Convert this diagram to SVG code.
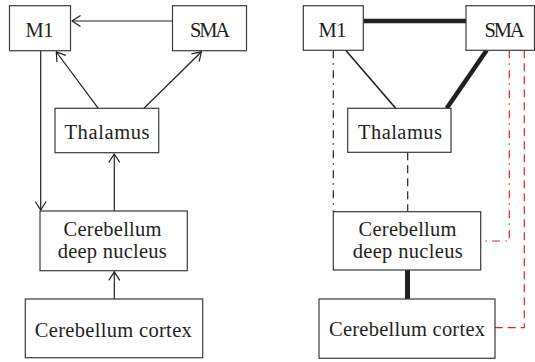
<svg xmlns="http://www.w3.org/2000/svg" width="535" height="362" viewBox="0 0 535 362">
<style>
.box{fill:#fff;stroke:#3a3a3a;stroke-width:1.2}
.t{font-family:'Liberation Serif','Times New Roman',serif;font-size:20.5px;fill:#231f20;text-anchor:middle}
.c{fill:none;stroke:#231f20;stroke-width:1.2}
.thick{fill:none;stroke:#231f20;stroke-width:4.5}
.dd{fill:none;stroke:#231f20;stroke-width:1.2;stroke-dasharray:8 5 1.5 5.5}
.da{fill:none;stroke:#231f20;stroke-width:1.2;stroke-dasharray:8 5}
.rdd{fill:none;stroke:#ed1c24;stroke-width:1.2;stroke-dasharray:8 5 1.5 5.5}
.rda{fill:none;stroke:#ed1c24;stroke-width:1.2;stroke-dasharray:8 5}
</style>
<defs>
<marker id="arr" viewBox="0 0 10 12" refX="10" refY="6" markerWidth="10" markerHeight="12" markerUnits="userSpaceOnUse" orient="auto">
<path d="M1,0.5 L9.5,6 L1,11.5" fill="none" stroke="#231f20" stroke-width="1.2"/>
</marker>
</defs>

<g id="connectors">
<line class="c" x1="172.5" y1="21" x2="71.5" y2="21" marker-end="url(#arr)"/>
<line class="c" x1="98.3" y1="108.3" x2="56" y2="51.5" marker-end="url(#arr)"/>
<line class="c" x1="144" y1="108.3" x2="201.7" y2="51.5" marker-end="url(#arr)"/>
<line class="c" x1="40.7" y1="50.7" x2="40.7" y2="210.5" marker-end="url(#arr)"/>
<line class="c" x1="114.3" y1="211" x2="114.3" y2="153.5" marker-end="url(#arr)"/>
<line class="c" x1="114.3" y1="299" x2="114.3" y2="271.3" marker-end="url(#arr)"/>

<line class="thick" x1="363.3" y1="21" x2="466" y2="21"/>
<line class="c" style="stroke-width:1.6" x1="345.7" y1="50.3" x2="395.7" y2="108.3"/>
<line class="thick" x1="486.7" y1="50.3" x2="446.7" y2="108.3"/>
<line class="dd" x1="333.3" y1="50.3" x2="333.3" y2="211.7"/>
<line class="da" x1="407.7" y1="152.3" x2="407.7" y2="211.7"/>
<line class="thick" style="stroke-width:5" x1="407.5" y1="270" x2="407.5" y2="299"/>
<path class="rdd" d="M509.3,50.3 V241 H480.7"/>
<path class="rda" d="M524.3,50.3 V327.7 H495"/>
</g>

<g id="m1-left"><rect class="box" x="9.5" y="5.7" width="61" height="45"/><text class="t" x="39.5" y="36.7" textLength="28">M1</text></g>
<g id="sma-left"><rect class="box" x="172.5" y="5.7" width="74" height="45"/><text class="t" x="210" y="36.7" textLength="40">SMA</text></g>
<g id="thalamus-left"><rect class="box" x="55" y="108.3" width="103.7" height="44.4"/><text class="t" x="107" y="139" textLength="85">Thalamus</text></g>
<g id="deep-left"><rect class="box" x="40" y="211" width="147.3" height="59.7"/><text class="t" x="112.5" y="235.7" textLength="98">Cerebellum</text><text class="t" x="112.2" y="258.3" textLength="109">deep nucleus</text></g>
<g id="cortex-left"><rect class="box" x="25.3" y="299" width="177.4" height="58.7"/><text class="t" x="113.3" y="336.5" textLength="157">Cerebellum cortex</text></g>

<g id="m1-right"><rect class="box" x="303.3" y="5.7" width="60" height="44.6"/><text class="t" x="332.5" y="36.7" textLength="28">M1</text></g>
<g id="sma-right"><rect class="box" x="466" y="5.7" width="68.5" height="44.6"/><text class="t" x="504.5" y="36.7" textLength="40">SMA</text></g>
<g id="thalamus-right"><rect class="box" x="347.7" y="108.3" width="103.3" height="44"/><text class="t" x="400" y="138.5" textLength="84">Thalamus</text></g>
<g id="deep-right"><rect class="box" x="333.3" y="211.7" width="147.4" height="58.3"/><text class="t" x="407.5" y="235.7" textLength="98">Cerebellum</text><text class="t" x="407.7" y="258.3" textLength="110">deep nucleus</text></g>
<g id="cortex-right"><rect class="box" x="319" y="299" width="176" height="59.3"/><text class="t" x="407" y="336" textLength="156">Cerebellum cortex</text></g>
</svg>
